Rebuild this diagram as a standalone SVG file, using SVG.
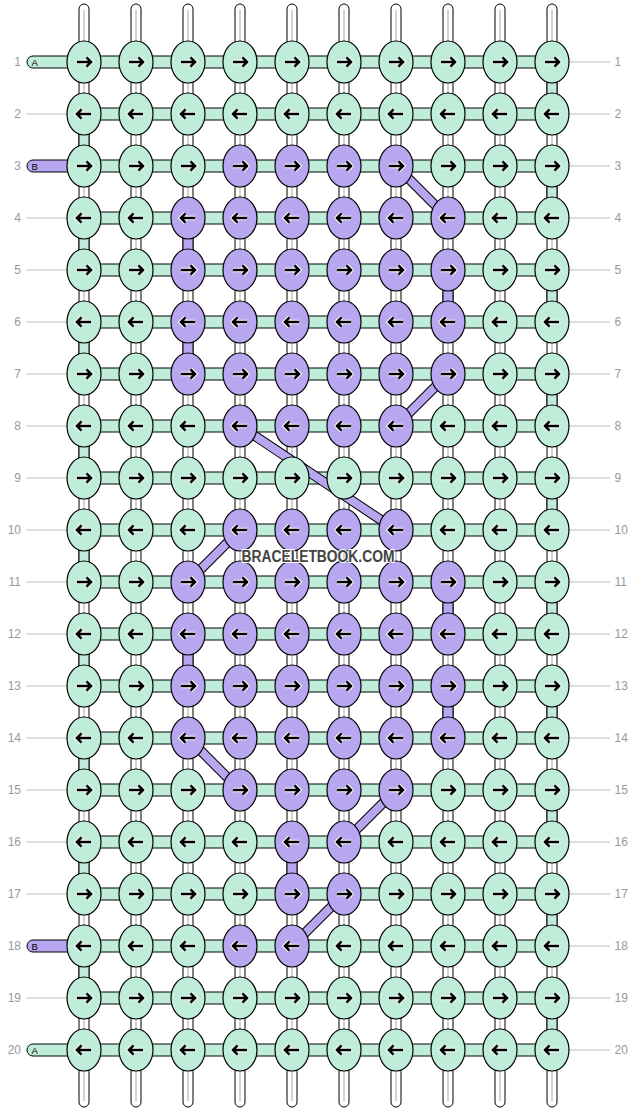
<svg xmlns="http://www.w3.org/2000/svg" xmlns:xlink="http://www.w3.org/1999/xlink" width="636" height="1112" viewBox="0 0 636 1112">
<style>
.km{fill:#bfedd9;stroke:#000;stroke-width:1.2}
.kp{fill:#b8a7f0;stroke:#000;stroke-width:1.2}
.ah{fill:none;stroke:#fff;stroke-width:4.6}
.ab{fill:none;stroke:#000;stroke-width:2.6}
.vs{fill:#fff;stroke:#000;stroke-width:1}
.gl{stroke:#c4c4c4;stroke-width:1.5}
.sm{fill:#bfedd9;stroke:#000;stroke-width:1}
.sp{fill:#b8a7f0;stroke:#000;stroke-width:1}
.dgo{fill:none;stroke:#000;stroke-width:10}
.dgi{fill:none;stroke:#b8a7f0;stroke-width:8}
.gr{stroke:#bbbbbb;stroke-width:1}
.num{font-family:"Liberation Sans",Arial,sans-serif;font-size:12px;fill:#999}
.let{font-family:"Liberation Sans",Arial,sans-serif;font-size:9.5px;fill:#000}
.wm{font-family:"Liberation Sans",Arial,sans-serif;font-size:16px;font-weight:bold;fill:#444;stroke:#fff;stroke-width:2;paint-order:stroke;stroke-linejoin:round}
</style>
<defs>
<g id="aR"><path class="ah" d="M-7,0H6M2.5,-4.6L7,0L2.5,4.6"/><path class="ab" d="M-7,0H6M2.5,-4.6L7,0L2.5,4.6"/></g>
<g id="aL" transform="scale(-1,1)"><use href="#aR"/></g>
<g id="mR"><ellipse class="km" rx="17" ry="21"/><use href="#aR"/></g>
<g id="mL"><ellipse class="km" rx="17" ry="21"/><use href="#aL"/></g>
<g id="pR"><ellipse class="kp" rx="17" ry="21"/><use href="#aR"/></g>
<g id="pL"><ellipse class="kp" rx="17" ry="21"/><use href="#aL"/></g>
</defs>
<rect width="636" height="1112" fill="#fff"/>
<g id="labels">
<g class="gr">
<line x1="26" y1="114" x2="80" y2="114"/><line x1="26" y1="218" x2="80" y2="218"/><line x1="26" y1="270" x2="80" y2="270"/><line x1="26" y1="322" x2="80" y2="322"/><line x1="26" y1="374" x2="80" y2="374"/><line x1="26" y1="426" x2="80" y2="426"/><line x1="26" y1="478" x2="80" y2="478"/><line x1="26" y1="530" x2="80" y2="530"/><line x1="26" y1="582" x2="80" y2="582"/><line x1="26" y1="634" x2="80" y2="634"/><line x1="26" y1="686" x2="80" y2="686"/><line x1="26" y1="738" x2="80" y2="738"/><line x1="26" y1="790" x2="80" y2="790"/><line x1="26" y1="842" x2="80" y2="842"/><line x1="26" y1="894" x2="80" y2="894"/><line x1="26" y1="998" x2="80" y2="998"/>
<line x1="556" y1="62" x2="610" y2="62"/><line x1="556" y1="114" x2="610" y2="114"/><line x1="556" y1="166" x2="610" y2="166"/><line x1="556" y1="218" x2="610" y2="218"/><line x1="556" y1="270" x2="610" y2="270"/><line x1="556" y1="322" x2="610" y2="322"/><line x1="556" y1="374" x2="610" y2="374"/><line x1="556" y1="426" x2="610" y2="426"/><line x1="556" y1="478" x2="610" y2="478"/><line x1="556" y1="530" x2="610" y2="530"/><line x1="556" y1="582" x2="610" y2="582"/><line x1="556" y1="634" x2="610" y2="634"/><line x1="556" y1="686" x2="610" y2="686"/><line x1="556" y1="738" x2="610" y2="738"/><line x1="556" y1="790" x2="610" y2="790"/><line x1="556" y1="842" x2="610" y2="842"/><line x1="556" y1="894" x2="610" y2="894"/><line x1="556" y1="946" x2="610" y2="946"/><line x1="556" y1="998" x2="610" y2="998"/><line x1="556" y1="1050" x2="610" y2="1050"/>
</g>
<g class="num" text-anchor="end">
<text x="21" y="66">1</text><text x="21" y="118">2</text><text x="21" y="170">3</text><text x="21" y="222">4</text><text x="21" y="274">5</text><text x="21" y="326">6</text><text x="21" y="378">7</text><text x="21" y="430">8</text><text x="21" y="482">9</text><text x="21" y="534">10</text><text x="21" y="586">11</text><text x="21" y="638">12</text><text x="21" y="690">13</text><text x="21" y="742">14</text><text x="21" y="794">15</text><text x="21" y="846">16</text><text x="21" y="898">17</text><text x="21" y="950">18</text><text x="21" y="1002">19</text><text x="21" y="1054">20</text>
</g>
<g class="num">
<text x="614.5" y="66">1</text><text x="614.5" y="118">2</text><text x="614.5" y="170">3</text><text x="614.5" y="222">4</text><text x="614.5" y="274">5</text><text x="614.5" y="326">6</text><text x="614.5" y="378">7</text><text x="614.5" y="430">8</text><text x="614.5" y="482">9</text><text x="614.5" y="534">10</text><text x="614.5" y="586">11</text><text x="614.5" y="638">12</text><text x="614.5" y="690">13</text><text x="614.5" y="742">14</text><text x="614.5" y="794">15</text><text x="614.5" y="846">16</text><text x="614.5" y="898">17</text><text x="614.5" y="950">18</text><text x="614.5" y="1002">19</text><text x="614.5" y="1054">20</text>
</g>
</g>
<g id="connectors">
<g id="strands">
<rect class="vs" x="79" y="4" width="10" height="1103" rx="5"/><rect class="vs" x="131" y="4" width="10" height="1103" rx="5"/><rect class="vs" x="183" y="4" width="10" height="1103" rx="5"/><rect class="vs" x="235" y="4" width="10" height="1103" rx="5"/><rect class="vs" x="287" y="4" width="10" height="1103" rx="5"/><rect class="vs" x="339" y="4" width="10" height="1103" rx="5"/><rect class="vs" x="391" y="4" width="10" height="1103" rx="5"/><rect class="vs" x="443" y="4" width="10" height="1103" rx="5"/><rect class="vs" x="495" y="4" width="10" height="1103" rx="5"/><rect class="vs" x="547" y="4" width="10" height="1103" rx="5"/>
<path class="gl" d="M84,10V1101M136,10V1101M188,10V1101M240,10V1101M292,10V1101M344,10V1101M396,10V1101M448,10V1101M500,10V1101M552,10V1101"/>
</g>
<g id="vertical-mint">
<rect class="sm" x="547" y="62" width="10" height="52"/><rect class="sm" x="547" y="166" width="10" height="52"/><rect class="sm" x="547" y="270" width="10" height="52"/><rect class="sm" x="547" y="374" width="10" height="52"/><rect class="sm" x="547" y="478" width="10" height="52"/><rect class="sm" x="547" y="582" width="10" height="52"/><rect class="sm" x="547" y="686" width="10" height="52"/><rect class="sm" x="547" y="790" width="10" height="52"/><rect class="sm" x="547" y="894" width="10" height="52"/><rect class="sm" x="547" y="998" width="10" height="52"/>
<rect class="sm" x="79" y="114" width="10" height="52"/><rect class="sm" x="79" y="218" width="10" height="52"/><rect class="sm" x="79" y="322" width="10" height="52"/><rect class="sm" x="79" y="426" width="10" height="52"/><rect class="sm" x="79" y="530" width="10" height="52"/><rect class="sm" x="79" y="634" width="10" height="52"/><rect class="sm" x="79" y="738" width="10" height="52"/><rect class="sm" x="79" y="842" width="10" height="52"/><rect class="sm" x="79" y="946" width="10" height="52"/>
</g>
<g id="vertical-purple">
<rect class="sp" x="183" y="218" width="10" height="52"/><rect class="sp" x="183" y="322" width="10" height="52"/><rect class="sp" x="183" y="634" width="10" height="52"/>
<rect class="sp" x="443" y="270" width="10" height="52"/><rect class="sp" x="443" y="582" width="10" height="52"/><rect class="sp" x="443" y="686" width="10" height="52"/>
<rect class="sp" x="287" y="842" width="10" height="52"/>
</g>
<g id="rows">
<rect class="sm" x="84" y="56" width="468" height="12"/><rect class="sm" x="84" y="108" width="468" height="12"/><rect class="sm" x="84" y="160" width="468" height="12"/><rect class="sm" x="84" y="212" width="468" height="12"/><rect class="sm" x="84" y="264" width="468" height="12"/><rect class="sm" x="84" y="316" width="468" height="12"/><rect class="sm" x="84" y="368" width="468" height="12"/><rect class="sm" x="84" y="420" width="468" height="12"/><rect class="sm" x="84" y="472" width="468" height="12"/><rect class="sm" x="84" y="524" width="468" height="12"/><rect class="sm" x="84" y="576" width="468" height="12"/><rect class="sm" x="84" y="628" width="468" height="12"/><rect class="sm" x="84" y="680" width="468" height="12"/><rect class="sm" x="84" y="732" width="468" height="12"/><rect class="sm" x="84" y="784" width="468" height="12"/><rect class="sm" x="84" y="836" width="468" height="12"/><rect class="sm" x="84" y="888" width="468" height="12"/><rect class="sm" x="84" y="940" width="468" height="12"/><rect class="sm" x="84" y="992" width="468" height="12"/><rect class="sm" x="84" y="1044" width="468" height="12"/>
</g>
<g id="start-strings">
<rect class="sm" x="27" y="56" width="56" height="12" rx="6"/><text class="let" x="31.5" y="65.5">A</text>
<rect class="sp" x="27" y="160" width="56" height="12" rx="6"/><text class="let" x="31.5" y="169.5">B</text>
<rect class="sp" x="27" y="940" width="56" height="12" rx="6"/><text class="let" x="31.5" y="949.5">B</text>
<rect class="sm" x="27" y="1044" width="56" height="12" rx="6"/><text class="let" x="31.5" y="1053.5">A</text>
</g>
<g id="diagonals">
<path class="dgo" d="M396,166L448,218M448,374L396,426M240,426L396,530M240,530L188,582M188,738L240,790M396,790L344,842M344,894L292,946"/>
<path class="dgi" d="M396,166L448,218M448,374L396,426M240,426L396,530M240,530L188,582M188,738L240,790M396,790L344,842M344,894L292,946"/>
</g>
</g>
<g id="knots">
<g id="k1-1"><use href="#mR" x="84" y="62"/></g><g id="k1-2"><use href="#mR" x="136" y="62"/></g><g id="k1-3"><use href="#mR" x="188" y="62"/></g><g id="k1-4"><use href="#mR" x="240" y="62"/></g><g id="k1-5"><use href="#mR" x="292" y="62"/></g><g id="k1-6"><use href="#mR" x="344" y="62"/></g><g id="k1-7"><use href="#mR" x="396" y="62"/></g><g id="k1-8"><use href="#mR" x="448" y="62"/></g><g id="k1-9"><use href="#mR" x="500" y="62"/></g><g id="k1-10"><use href="#mR" x="552" y="62"/></g>
<g id="k2-1"><use href="#mL" x="84" y="114"/></g><g id="k2-2"><use href="#mL" x="136" y="114"/></g><g id="k2-3"><use href="#mL" x="188" y="114"/></g><g id="k2-4"><use href="#mL" x="240" y="114"/></g><g id="k2-5"><use href="#mL" x="292" y="114"/></g><g id="k2-6"><use href="#mL" x="344" y="114"/></g><g id="k2-7"><use href="#mL" x="396" y="114"/></g><g id="k2-8"><use href="#mL" x="448" y="114"/></g><g id="k2-9"><use href="#mL" x="500" y="114"/></g><g id="k2-10"><use href="#mL" x="552" y="114"/></g>
<g id="k3-1"><use href="#mR" x="84" y="166"/></g><g id="k3-2"><use href="#mR" x="136" y="166"/></g><g id="k3-3"><use href="#mR" x="188" y="166"/></g><g id="k3-4"><use href="#pR" x="240" y="166"/></g><g id="k3-5"><use href="#pR" x="292" y="166"/></g><g id="k3-6"><use href="#pR" x="344" y="166"/></g><g id="k3-7"><use href="#pR" x="396" y="166"/></g><g id="k3-8"><use href="#mR" x="448" y="166"/></g><g id="k3-9"><use href="#mR" x="500" y="166"/></g><g id="k3-10"><use href="#mR" x="552" y="166"/></g>
<g id="k4-1"><use href="#mL" x="84" y="218"/></g><g id="k4-2"><use href="#mL" x="136" y="218"/></g><g id="k4-3"><use href="#pL" x="188" y="218"/></g><g id="k4-4"><use href="#pL" x="240" y="218"/></g><g id="k4-5"><use href="#pL" x="292" y="218"/></g><g id="k4-6"><use href="#pL" x="344" y="218"/></g><g id="k4-7"><use href="#pL" x="396" y="218"/></g><g id="k4-8"><use href="#pL" x="448" y="218"/></g><g id="k4-9"><use href="#mL" x="500" y="218"/></g><g id="k4-10"><use href="#mL" x="552" y="218"/></g>
<g id="k5-1"><use href="#mR" x="84" y="270"/></g><g id="k5-2"><use href="#mR" x="136" y="270"/></g><g id="k5-3"><use href="#pR" x="188" y="270"/></g><g id="k5-4"><use href="#pR" x="240" y="270"/></g><g id="k5-5"><use href="#pR" x="292" y="270"/></g><g id="k5-6"><use href="#pR" x="344" y="270"/></g><g id="k5-7"><use href="#pR" x="396" y="270"/></g><g id="k5-8"><use href="#pR" x="448" y="270"/></g><g id="k5-9"><use href="#mR" x="500" y="270"/></g><g id="k5-10"><use href="#mR" x="552" y="270"/></g>
<g id="k6-1"><use href="#mL" x="84" y="322"/></g><g id="k6-2"><use href="#mL" x="136" y="322"/></g><g id="k6-3"><use href="#pL" x="188" y="322"/></g><g id="k6-4"><use href="#pL" x="240" y="322"/></g><g id="k6-5"><use href="#pL" x="292" y="322"/></g><g id="k6-6"><use href="#pL" x="344" y="322"/></g><g id="k6-7"><use href="#pL" x="396" y="322"/></g><g id="k6-8"><use href="#pL" x="448" y="322"/></g><g id="k6-9"><use href="#mL" x="500" y="322"/></g><g id="k6-10"><use href="#mL" x="552" y="322"/></g>
<g id="k7-1"><use href="#mR" x="84" y="374"/></g><g id="k7-2"><use href="#mR" x="136" y="374"/></g><g id="k7-3"><use href="#pR" x="188" y="374"/></g><g id="k7-4"><use href="#pR" x="240" y="374"/></g><g id="k7-5"><use href="#pR" x="292" y="374"/></g><g id="k7-6"><use href="#pR" x="344" y="374"/></g><g id="k7-7"><use href="#pR" x="396" y="374"/></g><g id="k7-8"><use href="#pR" x="448" y="374"/></g><g id="k7-9"><use href="#mR" x="500" y="374"/></g><g id="k7-10"><use href="#mR" x="552" y="374"/></g>
<g id="k8-1"><use href="#mL" x="84" y="426"/></g><g id="k8-2"><use href="#mL" x="136" y="426"/></g><g id="k8-3"><use href="#mL" x="188" y="426"/></g><g id="k8-4"><use href="#pL" x="240" y="426"/></g><g id="k8-5"><use href="#pL" x="292" y="426"/></g><g id="k8-6"><use href="#pL" x="344" y="426"/></g><g id="k8-7"><use href="#pL" x="396" y="426"/></g><g id="k8-8"><use href="#mL" x="448" y="426"/></g><g id="k8-9"><use href="#mL" x="500" y="426"/></g><g id="k8-10"><use href="#mL" x="552" y="426"/></g>
<g id="k9-1"><use href="#mR" x="84" y="478"/></g><g id="k9-2"><use href="#mR" x="136" y="478"/></g><g id="k9-3"><use href="#mR" x="188" y="478"/></g><g id="k9-4"><use href="#mR" x="240" y="478"/></g><g id="k9-5"><use href="#mR" x="292" y="478"/></g><g id="k9-6"><use href="#mR" x="344" y="478"/></g><g id="k9-7"><use href="#mR" x="396" y="478"/></g><g id="k9-8"><use href="#mR" x="448" y="478"/></g><g id="k9-9"><use href="#mR" x="500" y="478"/></g><g id="k9-10"><use href="#mR" x="552" y="478"/></g>
<g id="k10-1"><use href="#mL" x="84" y="530"/></g><g id="k10-2"><use href="#mL" x="136" y="530"/></g><g id="k10-3"><use href="#mL" x="188" y="530"/></g><g id="k10-4"><use href="#pL" x="240" y="530"/></g><g id="k10-5"><use href="#pL" x="292" y="530"/></g><g id="k10-6"><use href="#pL" x="344" y="530"/></g><g id="k10-7"><use href="#pL" x="396" y="530"/></g><g id="k10-8"><use href="#mL" x="448" y="530"/></g><g id="k10-9"><use href="#mL" x="500" y="530"/></g><g id="k10-10"><use href="#mL" x="552" y="530"/></g>
<g id="k11-1"><use href="#mR" x="84" y="582"/></g><g id="k11-2"><use href="#mR" x="136" y="582"/></g><g id="k11-3"><use href="#pR" x="188" y="582"/></g><g id="k11-4"><use href="#pR" x="240" y="582"/></g><g id="k11-5"><use href="#pR" x="292" y="582"/></g><g id="k11-6"><use href="#pR" x="344" y="582"/></g><g id="k11-7"><use href="#pR" x="396" y="582"/></g><g id="k11-8"><use href="#pR" x="448" y="582"/></g><g id="k11-9"><use href="#mR" x="500" y="582"/></g><g id="k11-10"><use href="#mR" x="552" y="582"/></g>
<g id="k12-1"><use href="#mL" x="84" y="634"/></g><g id="k12-2"><use href="#mL" x="136" y="634"/></g><g id="k12-3"><use href="#pL" x="188" y="634"/></g><g id="k12-4"><use href="#pL" x="240" y="634"/></g><g id="k12-5"><use href="#pL" x="292" y="634"/></g><g id="k12-6"><use href="#pL" x="344" y="634"/></g><g id="k12-7"><use href="#pL" x="396" y="634"/></g><g id="k12-8"><use href="#pL" x="448" y="634"/></g><g id="k12-9"><use href="#mL" x="500" y="634"/></g><g id="k12-10"><use href="#mL" x="552" y="634"/></g>
<g id="k13-1"><use href="#mR" x="84" y="686"/></g><g id="k13-2"><use href="#mR" x="136" y="686"/></g><g id="k13-3"><use href="#pR" x="188" y="686"/></g><g id="k13-4"><use href="#pR" x="240" y="686"/></g><g id="k13-5"><use href="#pR" x="292" y="686"/></g><g id="k13-6"><use href="#pR" x="344" y="686"/></g><g id="k13-7"><use href="#pR" x="396" y="686"/></g><g id="k13-8"><use href="#pR" x="448" y="686"/></g><g id="k13-9"><use href="#mR" x="500" y="686"/></g><g id="k13-10"><use href="#mR" x="552" y="686"/></g>
<g id="k14-1"><use href="#mL" x="84" y="738"/></g><g id="k14-2"><use href="#mL" x="136" y="738"/></g><g id="k14-3"><use href="#pL" x="188" y="738"/></g><g id="k14-4"><use href="#pL" x="240" y="738"/></g><g id="k14-5"><use href="#pL" x="292" y="738"/></g><g id="k14-6"><use href="#pL" x="344" y="738"/></g><g id="k14-7"><use href="#pL" x="396" y="738"/></g><g id="k14-8"><use href="#pL" x="448" y="738"/></g><g id="k14-9"><use href="#mL" x="500" y="738"/></g><g id="k14-10"><use href="#mL" x="552" y="738"/></g>
<g id="k15-1"><use href="#mR" x="84" y="790"/></g><g id="k15-2"><use href="#mR" x="136" y="790"/></g><g id="k15-3"><use href="#mR" x="188" y="790"/></g><g id="k15-4"><use href="#pR" x="240" y="790"/></g><g id="k15-5"><use href="#pR" x="292" y="790"/></g><g id="k15-6"><use href="#pR" x="344" y="790"/></g><g id="k15-7"><use href="#pR" x="396" y="790"/></g><g id="k15-8"><use href="#mR" x="448" y="790"/></g><g id="k15-9"><use href="#mR" x="500" y="790"/></g><g id="k15-10"><use href="#mR" x="552" y="790"/></g>
<g id="k16-1"><use href="#mL" x="84" y="842"/></g><g id="k16-2"><use href="#mL" x="136" y="842"/></g><g id="k16-3"><use href="#mL" x="188" y="842"/></g><g id="k16-4"><use href="#mL" x="240" y="842"/></g><g id="k16-5"><use href="#pL" x="292" y="842"/></g><g id="k16-6"><use href="#pL" x="344" y="842"/></g><g id="k16-7"><use href="#mL" x="396" y="842"/></g><g id="k16-8"><use href="#mL" x="448" y="842"/></g><g id="k16-9"><use href="#mL" x="500" y="842"/></g><g id="k16-10"><use href="#mL" x="552" y="842"/></g>
<g id="k17-1"><use href="#mR" x="84" y="894"/></g><g id="k17-2"><use href="#mR" x="136" y="894"/></g><g id="k17-3"><use href="#mR" x="188" y="894"/></g><g id="k17-4"><use href="#mR" x="240" y="894"/></g><g id="k17-5"><use href="#pR" x="292" y="894"/></g><g id="k17-6"><use href="#pR" x="344" y="894"/></g><g id="k17-7"><use href="#mR" x="396" y="894"/></g><g id="k17-8"><use href="#mR" x="448" y="894"/></g><g id="k17-9"><use href="#mR" x="500" y="894"/></g><g id="k17-10"><use href="#mR" x="552" y="894"/></g>
<g id="k18-1"><use href="#mL" x="84" y="946"/></g><g id="k18-2"><use href="#mL" x="136" y="946"/></g><g id="k18-3"><use href="#mL" x="188" y="946"/></g><g id="k18-4"><use href="#pL" x="240" y="946"/></g><g id="k18-5"><use href="#pL" x="292" y="946"/></g><g id="k18-6"><use href="#mL" x="344" y="946"/></g><g id="k18-7"><use href="#mL" x="396" y="946"/></g><g id="k18-8"><use href="#mL" x="448" y="946"/></g><g id="k18-9"><use href="#mL" x="500" y="946"/></g><g id="k18-10"><use href="#mL" x="552" y="946"/></g>
<g id="k19-1"><use href="#mR" x="84" y="998"/></g><g id="k19-2"><use href="#mR" x="136" y="998"/></g><g id="k19-3"><use href="#mR" x="188" y="998"/></g><g id="k19-4"><use href="#mR" x="240" y="998"/></g><g id="k19-5"><use href="#mR" x="292" y="998"/></g><g id="k19-6"><use href="#mR" x="344" y="998"/></g><g id="k19-7"><use href="#mR" x="396" y="998"/></g><g id="k19-8"><use href="#mR" x="448" y="998"/></g><g id="k19-9"><use href="#mR" x="500" y="998"/></g><g id="k19-10"><use href="#mR" x="552" y="998"/></g>
<g id="k20-1"><use href="#mL" x="84" y="1050"/></g><g id="k20-2"><use href="#mL" x="136" y="1050"/></g><g id="k20-3"><use href="#mL" x="188" y="1050"/></g><g id="k20-4"><use href="#mL" x="240" y="1050"/></g><g id="k20-5"><use href="#mL" x="292" y="1050"/></g><g id="k20-6"><use href="#mL" x="344" y="1050"/></g><g id="k20-7"><use href="#mL" x="396" y="1050"/></g><g id="k20-8"><use href="#mL" x="448" y="1050"/></g><g id="k20-9"><use href="#mL" x="500" y="1050"/></g><g id="k20-10"><use href="#mL" x="552" y="1050"/></g>
</g>
<text class="wm" x="318" y="561.5" text-anchor="middle" textLength="153" lengthAdjust="spacingAndGlyphs">BRACELETBOOK.COM</text>
</svg>
